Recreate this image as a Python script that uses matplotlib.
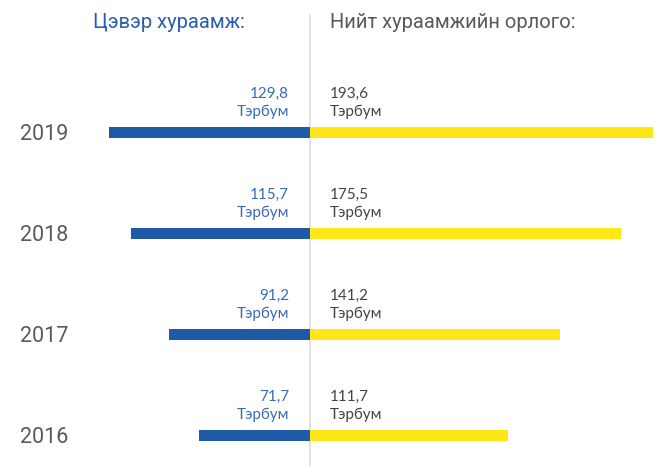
import matplotlib.pyplot as plt
import matplotlib.transforms as mtransforms
from matplotlib.lines import Line2D

# Data
years = ['2016', '2017', '2018', '2019']
net_premium = [71.7, 91.2, 115.7, 129.8]       # Цэвэр хураамж
total_income = [111.7, 141.2, 175.5, 193.6]    # Нийт хураамжийн орлого
value_labels_net = ['71,7', '91,2', '115,7', '129,8']
value_labels_total = ['111,7', '141,2', '175,5', '193,6']
unit = 'Тэрбум'

BLUE = '#1f5aa8'
YELLOW = '#ffe617'
GRAY_TXT = '#5a5a5a'

W, H = 665, 466
CENTER = 310
fig = plt.figure(figsize=(W / 100, H / 100), dpi=100)

# left (blue) and right (yellow) halves share the middle line
axL = fig.add_axes([0, 0, CENTER / W, 1])
axR = fig.add_axes([CENTER / W, 0, 1 - CENTER / W, 1])

ypos = list(range(len(years)))
ylim = (-0.30, 4.31)
bar_h = 0.115

axL.barh(ypos, [-v for v in net_premium], height=bar_h, color=BLUE)
axR.barh(ypos, total_income, height=bar_h, color=YELLOW)

axL.set_xlim(-CENTER / 1.55, 0)
axR.set_xlim(0, (W - CENTER) / 1.77)
for ax in (axL, axR):
    ax.set_ylim(*ylim)
    ax.axis('off')

# value labels above the bars
for i in ypos:
    axL.annotate(value_labels_net[i], xy=(0, i), xytext=(-15, 28), textcoords='offset points',
                 ha='right', va='center', fontsize=11, family='Lato', color='#3b6bb5')
    axL.annotate(unit, xy=(0, i), xytext=(-15, 15), textcoords='offset points',
                 ha='right', va='center', fontsize=11, family='Lato', color='#3b6bb5')
    axR.annotate(value_labels_total[i], xy=(0, i), xytext=(14.5, 28), textcoords='offset points',
                 ha='left', va='center', fontsize=11, family='Lato', color='#444444')
    axR.annotate(unit, xy=(0, i), xytext=(14.5, 15), textcoords='offset points',
                 ha='left', va='center', fontsize=11, family='Lato', color='#444444')

# year labels
trans = mtransforms.blended_transform_factory(axL.transAxes, axL.transData)
for i, yr in enumerate(years):
    axL.text(20 / CENTER, i - 0.02, yr, transform=trans, ha='left', va='center',
             fontsize=15.5, family='Roboto', color=GRAY_TXT)

# center line
fig.add_artist(Line2D([CENTER / W, CENTER / W], [0, 1 - 15 / H], color='#dddddd', lw=1.2, zorder=0))

# headers
fig.text(245 / W, 1 - 23 / H, 'Цэвэр хураамж:', ha='right', va='center',
         fontsize=14.5, family='Roboto', color='#2a5db0')
fig.text(330 / W, 1 - 23 / H, 'Нийт хураамжийн орлого:', ha='left', va='center',
         fontsize=14.5, family='Roboto', color=GRAY_TXT)

fig.savefig('out.png', dpi=100)
